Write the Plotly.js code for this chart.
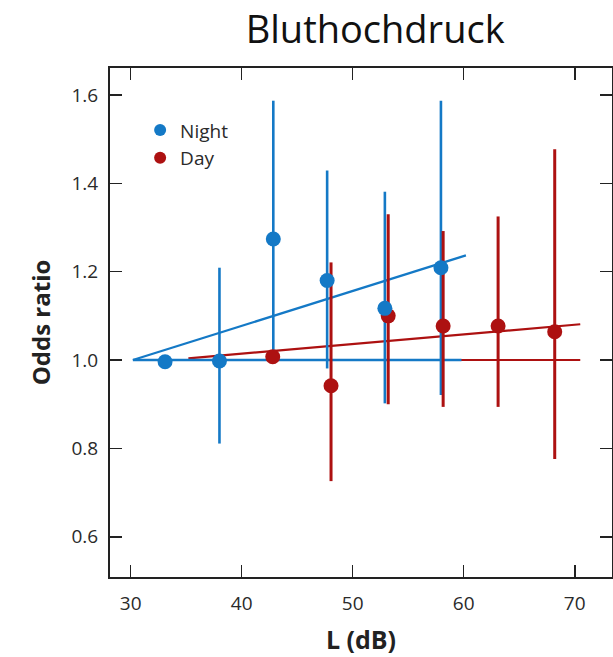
<!DOCTYPE html>
<html><head><meta charset="utf-8">
<script src="https://cdn.plot.ly/plotly-3.0.1.min.js"></script>
<style>html,body{margin:0;padding:0;background:#fff}#chart{width:613px;height:657px}</style>
</head><body><div id="chart"></div>
<script>
// Data
const nightL   = [33.1, 38.0, 42.85, 47.7, 52.9, 57.95];
const nightOR  = [0.996, 0.998, 1.274, 1.18, 1.117, 1.209];
const nightHi  = [0.996, 1.209, 1.587, 1.429, 1.381, 1.587];
const nightLo  = [0.996, 0.811, 1.023, 0.981, 0.902, 0.921];

const dayL  = [42.8, 48.05, 53.2, 58.15, 63.1, 68.2];
const dayOR = [1.0075, 0.942, 1.10, 1.077, 1.077, 1.064];
const dayHi = [1.0075, 1.221, 1.33, 1.292, 1.325, 1.477];
const dayLo = [1.0075, 0.726, 0.90, 0.894, 0.894, 0.776];

const nightTrendX = [30.2, 60.2], nightTrendY = [1.0, 1.237];
const nightBaseX  = [30.2, 59.8], nightBaseY  = [1.0, 1.0];
const dayTrendX   = [35.2, 70.5], dayTrendY   = [1.004, 1.081];
const dayBaseX    = [35.2, 70.5], dayBaseY    = [1.0, 1.0];

const xTicks = [30, 40, 50, 60, 70];
const yTicks = [0.6, 0.8, 1.0, 1.2, 1.4, 1.6];
const yTickText = ['0.6', '0.8', '1.0', '1.2', '1.4', '1.6'];

const blue = '#1479c6', red = '#ad1111';
const up = (hi, v) => hi.map((h, i) => h - v[i]);
const dn = (lo, v) => lo.map((l, i) => v[i] - l);

const traces = [
  {x: dayBaseX, y: dayBaseY, mode: 'lines', line: {color: red, width: 2}, showlegend: false, hoverinfo: 'skip'},
  {x: dayTrendX, y: dayTrendY, mode: 'lines', line: {color: red, width: 2.2}, showlegend: false, hoverinfo: 'skip'},
  {x: nightBaseX, y: nightBaseY, mode: 'lines', line: {color: blue, width: 2.6}, showlegend: false, hoverinfo: 'skip'},
  {x: nightTrendX, y: nightTrendY, mode: 'lines', line: {color: blue, width: 2.2}, showlegend: false, hoverinfo: 'skip'},
  {x: nightL, y: nightOR, mode: 'markers', marker: {size: 1, color: 'rgba(0,0,0,0)'}, showlegend: false,
   error_y: {type: 'data', symmetric: false, array: up(nightHi, nightOR), arrayminus: dn(nightLo, nightOR), color: blue, thickness: 2.6, width: 0}},
  {x: dayL, y: dayOR, mode: 'markers', name: 'Day', marker: {size: 15, color: red},
   error_y: {type: 'data', symmetric: false, array: up(dayHi, dayOR), arrayminus: dn(dayLo, dayOR), color: red, thickness: 3, width: 0}},
  {x: nightL, y: nightOR, mode: 'markers', name: 'Night', marker: {size: 15, color: blue}}
];

const layout = {
  width: 613, height: 657,
  margin: {l: 110, r: 1, t: 68, b: 80},
  paper_bgcolor: '#fff', plot_bgcolor: '#fff',
  font: {family: 'Open Sans, Noto Sans, sans-serif', color: '#2a2a2a', size: 16},
  title: {text: 'Bluthochdruck', x: 0.612, xref: 'container', xanchor: 'center', y: 0.955, yref: 'container', yanchor: 'middle',
          font: {family: 'Open Sans, sans-serif', size: 38, color: '#111'}},
  showlegend: true,
  legend: {x: 0.06, y: 0.915, xanchor: 'left', yanchor: 'top', traceorder: 'reversed', bgcolor: 'rgba(0,0,0,0)',
           font: {size: 19, color: '#2a2a2a'}, itemsizing: 'constant', tracegroupgap: 0},
  xaxis: {range: [28.14, 73.36], tickvals: xTicks, ticks: 'inside', ticklen: 12, tickwidth: 1.6, tickcolor: '#222',
          showline: true, mirror: 'ticks', linecolor: '#222', linewidth: 2, showgrid: false, zeroline: false,
          ticklabelstandoff: 8,
          tickfont: {size: 19}, title: {text: '<b>L (dB)</b>', font: {size: 25, color: '#222'}, standoff: 17}},
  yaxis: {range: [0.509, 1.661], tickvals: yTicks, ticktext: yTickText,
          ticks: 'inside', ticklen: 12, tickwidth: 1.6, tickcolor: '#222',
          showline: true, mirror: 'ticks', linecolor: '#222', linewidth: 2, showgrid: false, zeroline: false,
          ticklabelstandoff: 6,
          tickfont: {size: 19}, title: {text: '<b>Odds ratio</b>', font: {size: 24, color: '#222'}, standoff: 14}}
};

Plotly.newPlot('chart', traces, layout, {displayModeBar: false, staticPlot: true});
</script></body></html>
